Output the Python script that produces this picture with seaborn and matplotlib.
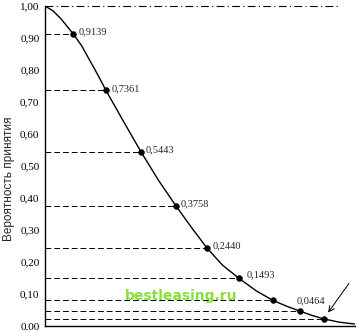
import matplotlib
matplotlib.use("Agg")
import matplotlib.pyplot as plt
import seaborn as sns
import pandas as pd

# ---- data ----
curve_x = [0.0, 0.25, 0.5, 0.875, 1.15, 1.4, 1.65, 1.906, 2.45, 3.0, 3.55, 4.09, 4.6, 5.06,
           5.55, 6.06, 6.6, 7.125, 7.55, 7.97, 8.35, 8.72, 9.2, 9.69]
curve_y = [1.0, 0.985, 0.96, 0.9139, 0.875, 0.83, 0.785, 0.7361, 0.64, 0.5443, 0.455, 0.3758,
           0.305, 0.2440, 0.19, 0.1493, 0.11, 0.08, 0.062, 0.0464, 0.033, 0.022,
           0.012, 0.006]
point_x = [0.875, 1.906, 3.0, 4.09, 5.06, 6.06, 7.125, 7.97, 8.72]
point_y = [0.9139, 0.7361, 0.5443, 0.3758, 0.2440, 0.1493, 0.08, 0.0464, 0.022]
point_labels = ["0,9139", "0,7361", "0,5443", "0,3758", "0,2440", "0,1493", "", "0,0464", ""]
ytick_vals = [0.0, 0.1, 0.2, 0.3, 0.4, 0.5, 0.6, 0.7, 0.8, 0.9, 1.0]
ytick_labels = ["0,00", "0,10", "0,20", "0,30", "0,40", "0,50", "0,60", "0,70", "0,80", "0,90", "1,00"]
y_title = "Вероятность принятия"
watermark = "bestleasing.ru"

sns.set_style("white")
plt.rcParams['font.family'] = ['Liberation Serif', 'DejaVu Serif']

fig = plt.figure(figsize=(3.56, 3.30), dpi=100)
ax = fig.add_axes([45/356, 4/330, 310/356, 320/330])

curve_df = pd.DataFrame({"x": curve_x, "y": curve_y})
pts_df = pd.DataFrame({"x": point_x, "y": point_y})

# horizontal guide lines
ax.plot([0, 9.2], [1.0, 1.0], color="black", lw=0.8, ls=(0, (7, 3, 1, 3)), clip_on=False)
for px, py in zip(point_x, point_y):
    ax.plot([0, px], [py, py], color="black", lw=0.7, ls=(0, (6, 3)), zorder=1)

sns.lineplot(data=curve_df, x="x", y="y", ax=ax, color="black", lw=1.0,
             estimator=None, sort=False, zorder=3)
sns.scatterplot(data=pts_df, x="x", y="y", ax=ax, color="black", s=18,
                edgecolor="black", zorder=4, clip_on=False)

offsets = [(6, 2), (6, 2), (5, 2), (5, 2), (6, 2), (8, 3), (0, 0), (-3, 10), (0, 0)]
for px, py, lab, off in zip(point_x, point_y, point_labels, offsets):
    if lab:
        ax.annotate(lab, (px, py), xytext=off, textcoords="offset pixels",
                    fontsize=7.5, va="center", ha="left")

# arrow pointing to last point
ax.annotate("", xy=(8.8, 0.035), xytext=(9.55, 0.14),
            arrowprops=dict(arrowstyle="->", color="black", lw=0.7))

ax.text(0.44, 0.095, watermark, transform=ax.transAxes, color="#86e03a",
        fontsize=10, fontweight="bold", family="DejaVu Sans", ha="center", va="center")

ax.set_xlim(0, 9.69)
ax.set_ylim(0, 1.0)
ax.set_yticks(ytick_vals)
ax.set_yticklabels(ytick_labels, fontsize=8)
ax.set_xticks(point_x)
ax.set_xticklabels([])
ax.tick_params(axis="both", direction="in", length=4, width=0.8, colors="black")
ax.tick_params(axis="y", pad=4)
ax.set_xlabel("")
ax.set_ylabel(y_title, fontsize=8.5, family="Liberation Sans")
ax.yaxis.set_label_coords(-0.098, 0.46)

for s in ["top", "right"]:
    ax.spines[s].set_visible(False)
for s in ["left", "bottom"]:
    ax.spines[s].set_color("black")
    ax.spines[s].set_linewidth(1.0)

fig.savefig("out.png", dpi=100)
